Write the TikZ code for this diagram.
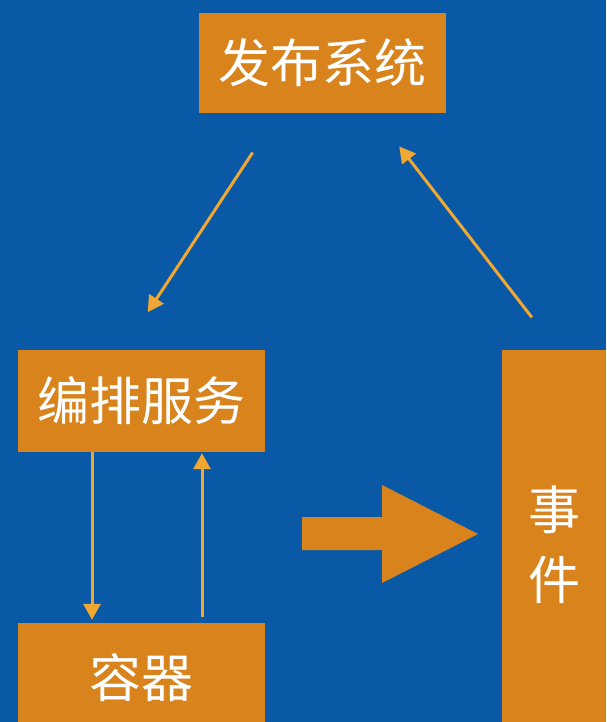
\documentclass[tikz,border=0pt]{standalone}
\usepackage{fontspec}
\newfontfamily\cjk{Noto Sans CJK SC}
\usetikzlibrary{arrows.meta}

\definecolor{bgblue}{RGB}{10,89,166}
\definecolor{boxorange}{RGB}{217,131,28}
\definecolor{linkorange}{RGB}{240,168,50}

\tikzset{
    box/.style={fill=boxorange, text=white, inner sep=0pt, font=\cjk\fontsize{52}{70}\selectfont},
    link/.style={draw=linkorange, line width=3pt, -{Triangle[length=16pt,width=17pt]}}
}

\begin{document}
\begin{tikzpicture}[x=1pt, y=-1pt]
        % 1. Background
        \fill[bgblue] (0,0) rectangle (606,722);
        \useasboundingbox (0,0) rectangle (606,722);
        \clip (0,0) rectangle (606,722);

        % 2. The boxes
        \node[box, minimum width=247pt, minimum height=100pt] (publish) at (322.5,63) {发布系统};
        \node[box, minimum width=247pt, minimum height=102pt] (orch) at (141.5,401) {编排服务};
        \node[box, minimum width=247pt, minimum height=110pt] (container) at (141.5,678) {容器};
        \node[box, minimum width=104pt, minimum height=390pt, align=center] (event) at (554,545) {事\\件};

        % 3. Thin arrows between the boxes
        \draw[link, shorten <=47pt, shorten >=45pt] ([xshift=-44pt]publish.south) -- ([xshift=-18.5pt]orch.north);
        \draw[link, shorten <=41pt, shorten >=42pt] ([xshift=3pt]event.north) -- ([xshift=51pt]publish.south);
        \draw[link, shorten >=3pt] ([xshift=-49.5pt]orch.south) -- ([xshift=-49.5pt]container.north);
        \draw[link, shorten <=6pt, shorten >=1pt] ([xshift=60.5pt]container.north) -- ([xshift=60.5pt]orch.south);

        % 4. The big arrow
        \fill[boxorange] (302,517) -- (382,517) -- (382,485) -- (478,534)
            -- (382,583) -- (382,550) -- (302,550) -- cycle;
    \end{tikzpicture}
\end{document}
